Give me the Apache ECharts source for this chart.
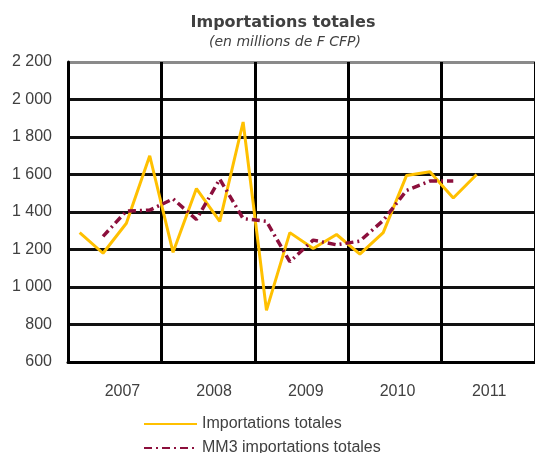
<!DOCTYPE html>
<html>
<head>
<meta charset="utf-8">
<script src="https://cdn.jsdelivr.net/npm/echarts@6/dist/echarts.min.js"></script>
<style>
html,body{margin:0;padding:0;background:#fff;}
#main{width:535px;height:453px;}
</style>
</head>
<body>
<div id="main"></div>
<script>
// Quarterly categories (2007 Q1 .. 2011 Q4)
const quarters = [
  'T1 2007','T2 2007','T3 2007','T4 2007',
  'T1 2008','T2 2008','T3 2008','T4 2008',
  'T1 2009','T2 2009','T3 2009','T4 2009',
  'T1 2010','T2 2010','T3 2010','T4 2010',
  'T1 2011','T2 2011','T3 2011','T4 2011'
];
const years = ['2007', '2008', '2009', '2010', '2011'];
const importations = [1290, 1180, 1340, 1700, 1185, 1525, 1350, 1880, 875, 1290, 1205, 1280, 1175, 1290, 1595, 1615, 1475, 1600, null, null];
const mm3 = [null, 1270, 1405, 1410, 1470, 1360, 1575, 1365, 1350, 1135, 1250, 1225, 1245, 1355, 1515, 1565, 1565, null, null, null];
const yTicks = [600, 800, 1000, 1200, 1400, 1600, 1800, 2000, 2200];
const seriesNames = ['Importations totales', 'MM3 importations totales'];

const chart = echarts.init(document.getElementById('main'), null, {renderer: 'canvas'});
const txt = '#404040';
const fmt = v => String(v).replace(/\B(?=(\d{3})+(?!\d))/g, ' ');
const splitColors = yTicks.map((t, i) => i === yTicks.length - 1 ? '#8a8a8a' : '#111');

const legendBase = {
  orient: 'vertical',
  left: 138,
  itemWidth: 53,
  itemHeight: 16,
  itemGap: 8,
  itemStyle: {opacity: 0},
  textStyle: {color: txt, fontSize: 16, fontFamily: 'Liberation Sans', lineHeight: 16}
};

chart.setOption({
  animation: false,
  backgroundColor: '#fff',
  graphic: [
    {type: 'text', x: 283, y: 23, style: {text: 'Importations totales', align: 'center', verticalAlign: 'middle', fill: txt, font: 'bold 16px "DejaVu Sans"'}},
    {type: 'text', x: 285, y: 42, style: {text: '(en millions de F CFP)', align: 'center', verticalAlign: 'middle', fill: txt, font: 'italic 14px "DejaVu Sans"'}}
  ],
  grid: [
    {left: 68, top: 62, width: 471, height: 300, containLabel: false},
    {left: 76.6, top: 62, width: 458.75, height: 300, containLabel: false}
  ],
  legend: [
    Object.assign({}, legendBase, {top: 411, data: [seriesNames[0]]}),
    Object.assign({}, legendBase, {top: 435, data: [seriesNames[1]]})
  ],
  xAxis: [
    {
      type: 'category', gridIndex: 0, data: quarters, boundaryGap: true,
      axisLine: {show: true, lineStyle: {color: '#000', width: 3}},
      axisTick: {show: false}, axisLabel: {show: false}, splitLine: {show: false}
    },
    {
      type: 'category', gridIndex: 0, data: years, boundaryGap: true, position: 'bottom',
      axisLine: {show: false}, axisTick: {show: false}, axisLabel: {show: false},
      splitLine: {show: true, interval: 0, lineStyle: {color: '#000', width: 3}}
    },
    {
      type: 'category', gridIndex: 1, data: years, boundaryGap: true, position: 'bottom',
      axisLine: {show: false}, axisTick: {show: false}, splitLine: {show: false},
      axisLabel: {show: true, interval: 0, margin: 22, color: txt, fontSize: 16, fontFamily: 'Liberation Sans'}
    }
  ],
  yAxis: [
    {
      type: 'value', gridIndex: 0, min: 600, max: 2200, interval: 200,
      axisLine: {show: true, lineStyle: {color: '#000', width: 3}},
      axisTick: {show: false},
      axisLabel: {color: txt, fontSize: 16, fontFamily: 'Liberation Sans', margin: 16, formatter: fmt},
      splitLine: {show: true, lineStyle: {color: splitColors, width: 3}}
    },
    {
      type: 'value', gridIndex: 1, min: 600, max: 2200, show: false
    }
  ],
  series: [
    {
      name: seriesNames[0], type: 'line', xAxisIndex: 0, yAxisIndex: 0,
      data: importations, symbol: 'none', z: 4,
      lineStyle: {color: '#FFC000', width: 3}, itemStyle: {color: '#FFC000'}
    },
    {
      name: seriesNames[1], type: 'line', xAxisIndex: 0, yAxisIndex: 0,
      data: mm3, symbol: 'none', z: 5,
      lineStyle: {color: '#8c0f3c', width: 3.5, type: [8, 4, 2, 4]}, itemStyle: {color: '#8c0f3c'}
    }
  ]
});
</script>
</body>
</html>
